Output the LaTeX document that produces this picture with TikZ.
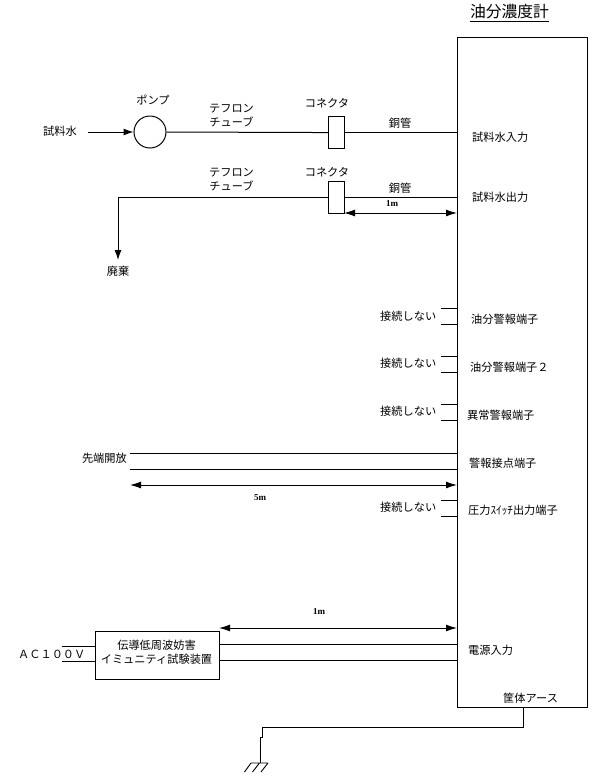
\documentclass[tikz,border=0pt]{standalone}
\usepackage{fontspec}
\setmainfont{Noto Sans CJK JP}
\newfontfamily\dimfont{Liberation Serif}
\usetikzlibrary{arrows.meta}
\tikzset{
  every picture/.style={x=1pt,y=-1pt},
  wire/.style={draw=black,line width=1pt},
  flow/.style={wire,-{Latex[length=10pt,width=7pt]}},
  span/.style={wire,{Latex[length=11pt,width=7pt]}-{Latex[length=11pt,width=7pt]}},
  lbl/.style={inner sep=0pt,anchor=west,font=\fontsize{11.2}{13}\selectfont},
  clbl/.style={lbl,anchor=center},
  dim/.style={inner sep=0pt,font=\fontsize{9}{10}\dimfont\bfseries},
  device/.style={draw=black,line width=1.1pt,fill=white,inner sep=0pt,anchor=north west},
}
\begin{document}
\begin{tikzpicture}
\useasboundingbox (0,0) rectangle (600,780);

% Analyser housing and title
\node[device,minimum width=130pt,minimum height=670pt] (meter) at (457,37) {};
\node[inner sep=0pt,font=\fontsize{15.8}{18}\selectfont] (title) at (509.5,12) {油分濃度計};
\coordinate (titleL) at (470,21);
\coordinate (titleR) at (549,21);
\draw[line width=1pt] (titleL) -- (titleR);

% Sample water inlet line
\node[lbl] (sample) at (43,131) {試料水};
\coordinate (sampleStart) at (88,132);
\node[draw=black,line width=1pt,circle,minimum size=32pt,inner sep=0pt] (pump) at (150,132) {};
\node[clbl] (pumpText) at (153,100) {ポンプ};
\node[device,minimum width=16pt,minimum height=32pt] (connA) at (328,116) {};
\node[clbl] (connAText) at (327,103) {コネクタ};
\node[clbl] (tubeA1) at (231.5,109) {テフロン};
\node[clbl] (tubeA2) at (231.5,122) {チューブ};
\node[clbl] (copperA) at (400,123) {銅管};
\draw[flow] (sampleStart) -- (pump.west);
\draw[wire] (pump.east) -- (connA.west);
\draw[wire] (connA.east) -- (connA.east -| meter.west);
\node[lbl] (portIn) at (472,137) {試料水入力};

% Sample water outlet line
\node[device,minimum width=16pt,minimum height=32pt] (connB) at (328,181) {};
\node[clbl] (connBText) at (327,172) {コネクタ};
\node[clbl] (tubeB1) at (231.5,173) {テフロン};
\node[clbl] (tubeB2) at (231.5,186) {チューブ};
\node[clbl] (copperB) at (400,188) {銅管};
\node[clbl] (waste) at (118,271) {廃棄};
\coordinate (wasteEnd) at (118,260);
\draw[flow] (connB.west) -| (wasteEnd);
\draw[wire] (connB.east) -- (connB.east -| meter.west);
\coordinate (oneA) at (344,213);
\draw[span] (oneA) -- (oneA -| meter.west);
\node[dim] (oneAText) at (392,204) {1m};
\node[lbl] (portOut) at (472,197) {試料水出力};

% Unconnected alarm terminals
\foreach \name/\top/\textY in {alarmA/308/316,alarmB/356/363,alarmC/404/411,alarmD/500/507}{
  \coordinate (\name1) at (441,\top);
  \coordinate (\name2) at (441,\top+16);
  \draw[wire] (\name1) -- (\name1 -| meter.west);
  \draw[wire] (\name2) -- (\name2 -| meter.west);
  \node[lbl] (\name Text) at (380,\textY) {接続しない};
}
\node[lbl] (portA) at (471,319) {油分警報端子};
\node[lbl] (portB) at (470,367) {油分警報端子２};
\node[lbl] (portC) at (467,415) {異常警報端子};
\node[lbl] (portD) at (469,463) {警報接点端子};
\node[lbl] (portE) at (468,510) {圧力ｽｲｯﾁ出力端子};

% Open-ended alarm contact cable
\node[lbl,anchor=east] (openEnd) at (127,458) {先端開放};
\coordinate (openA) at (130,453);
\coordinate (openB) at (130,469);
\coordinate (fiveM) at (130,485);
\draw[wire] (openA) -- (openA -| meter.west);
\draw[wire] (openB) -- (openB -| meter.west);
\draw[span] (fiveM) -- (fiveM -| meter.west);
\node[dim] (fiveMText) at (260,498) {5m};

% Immunity test equipment and power feed
\node[device,minimum width=124pt,minimum height=48pt] (tester) at (95,631) {};
\node[clbl] (testerA) at (156.5,645) {伝導低周波妨害};
\node[clbl] (testerB) at (156.5,659) {イミュニティ試験装置};
\node[lbl] (acText) at (18,654) {ＡＣ１００Ｖ};
\coordinate (acA) at (62,646);
\coordinate (acB) at (62,661);
\draw[wire] (acA) -- (acA -| tester.west);
\draw[wire] (acB) -- (acB -| tester.west);
\coordinate (feedA) at (219,644.5);
\coordinate (feedB) at (219,660);
\draw[wire] (feedA) -- (feedA -| meter.west);
\draw[wire] (feedB) -- (feedB -| meter.west);
\coordinate (oneB) at (219,628);
\draw[span] (oneB) -- (oneB -| meter.west);
\node[dim] (oneBText) at (319,612) {1m};
\node[lbl] (portPower) at (468,650) {電源入力};
\node[lbl] (portEarth) at (503,698) {筐体アース};

% Chassis earth
\coordinate (earthTap) at (523,707);
\coordinate (earthCorner) at (262,727);
\coordinate (earthBar) at (260.5,763);
\draw[wire] (earthTap) |- (earthCorner) -- (262,737) -- (260.5,737) -- (earthBar);
\draw[line width=0.9pt] (251,763) -- (268,763)
  (251,763) -- (244.5,772)
  (259.5,763) -- (252.5,772)
  (268,763) -- (261,772);
\end{tikzpicture}
\end{document}
